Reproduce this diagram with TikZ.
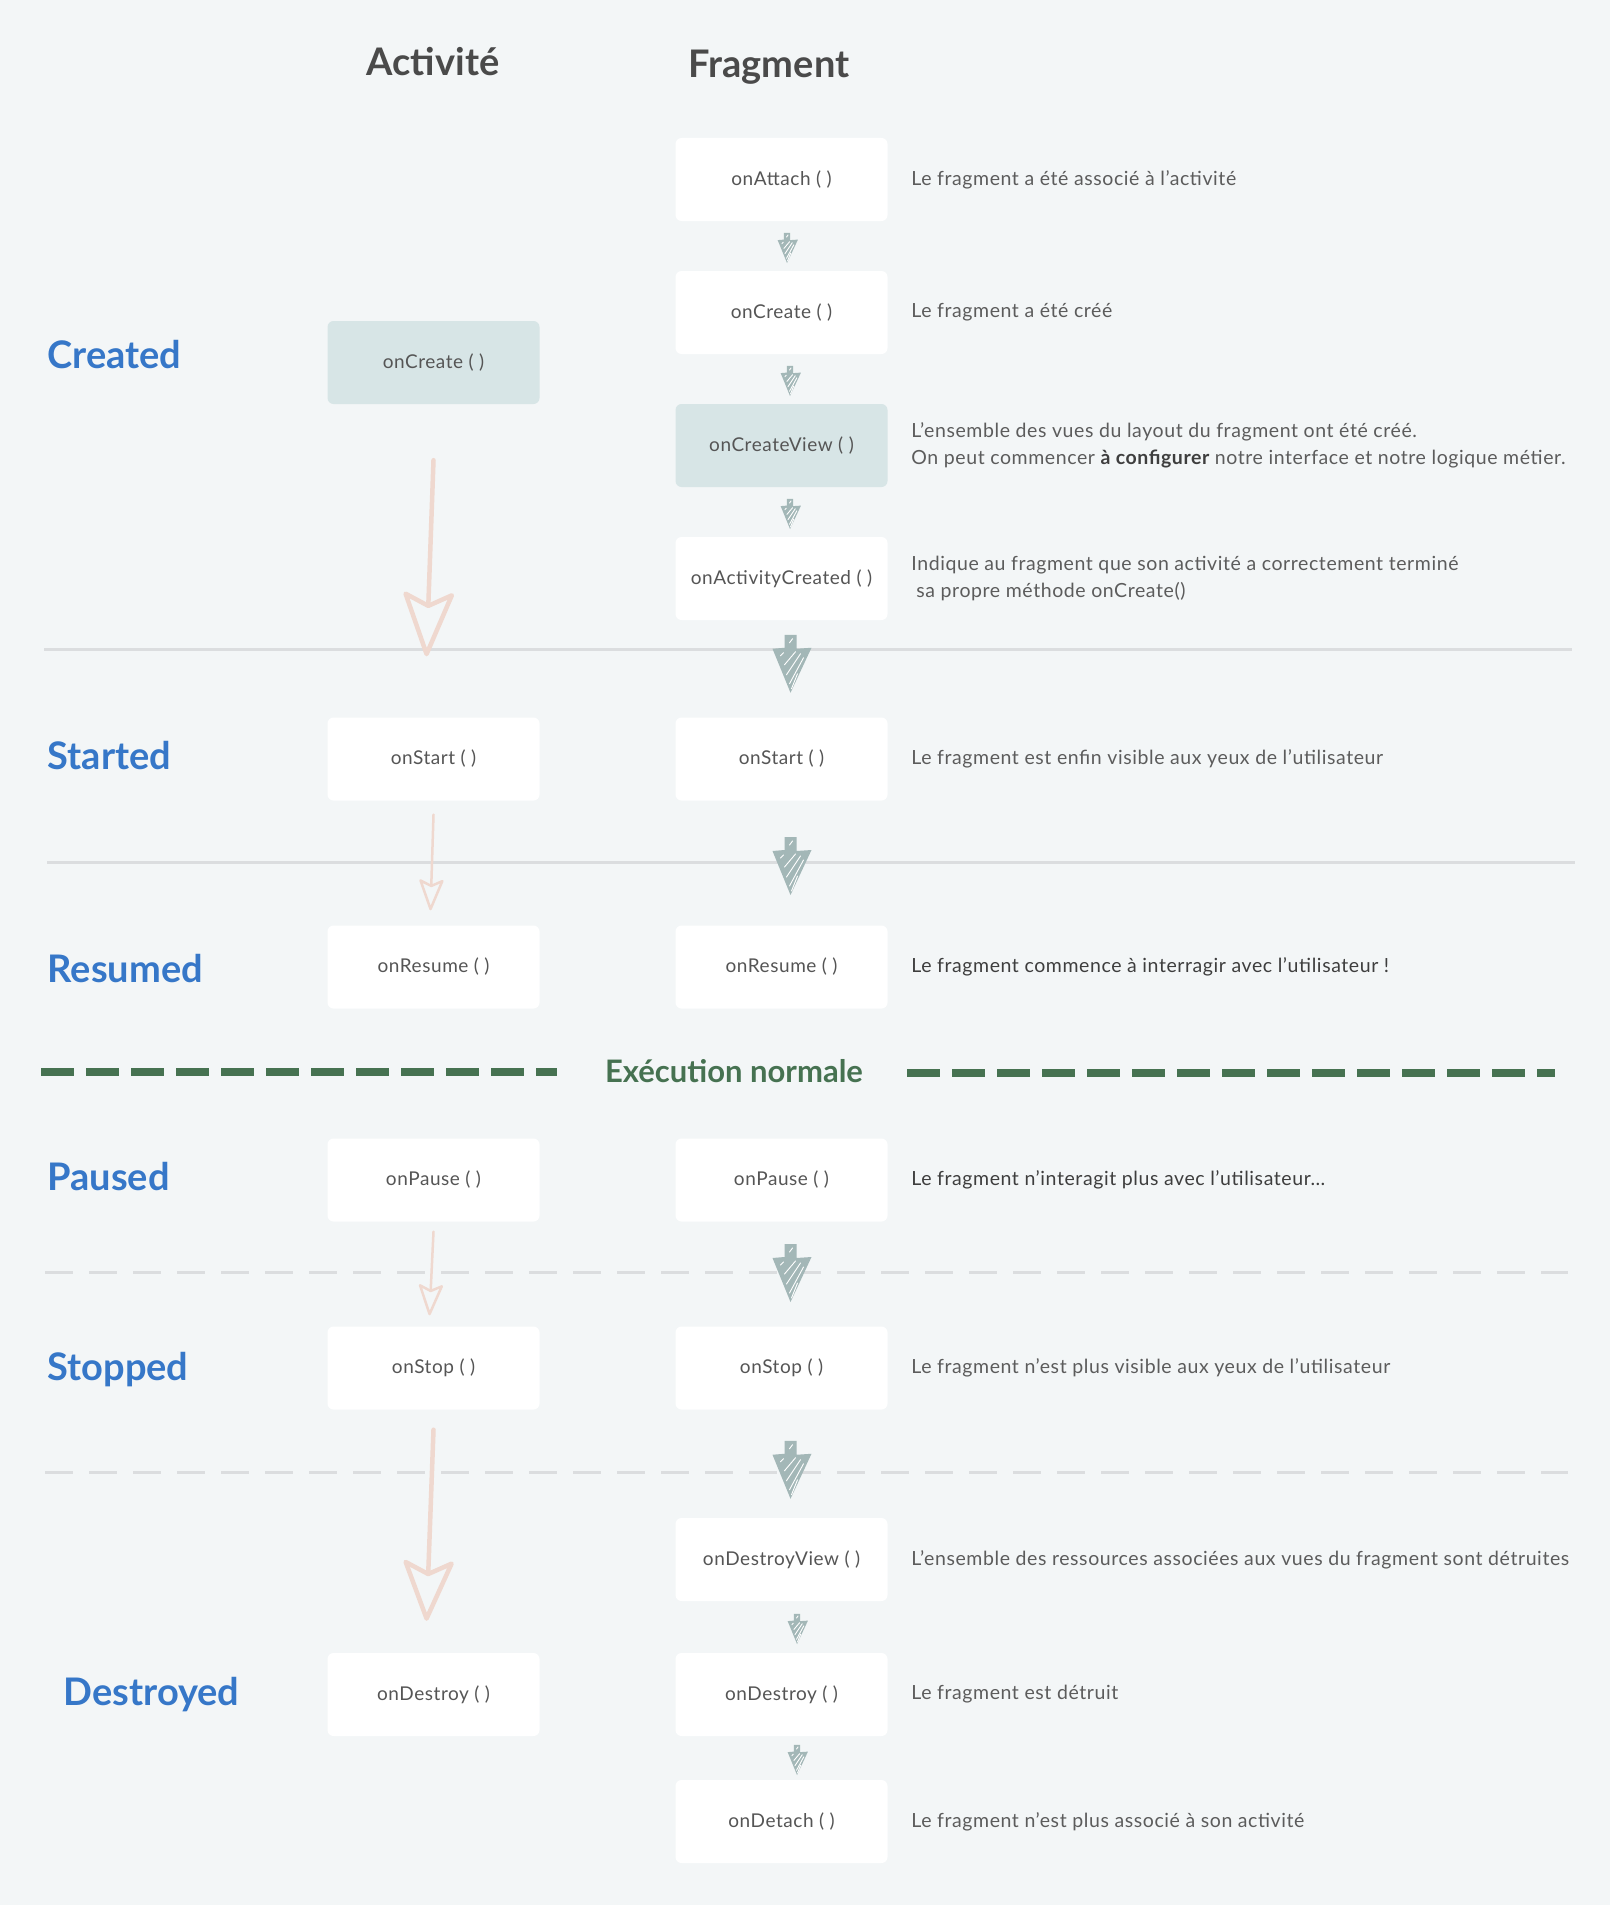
\documentclass[tikz,border=0pt]{standalone}
\usepackage{fontspec}
\setmainfont{Lato}
\newfontfamily\latoespace{Lato}[LetterSpace=3]
\usetikzlibrary{arrows.meta,calc,positioning}

\definecolor{fond}{HTML}{F3F6F7}
\definecolor{surligne}{HTML}{D7E5E6}
\definecolor{textebox}{HTML}{555555}
\definecolor{textedesc}{HTML}{5C5C5C}
\definecolor{textefort}{HTML}{3E3E3E}
\definecolor{titregris}{HTML}{4A4A4A}
\definecolor{bleuetat}{HTML}{3677C8}
\definecolor{grisfleche}{HTML}{A3B7B7}
\definecolor{rosefleche}{HTML}{EFD8CF}
\definecolor{gristrait}{HTML}{DBDDDF}
\definecolor{vertexec}{HTML}{467251}

\tikzset{
  fleche/.pic={
    \fill[grisfleche] (-5,-58) -- (7,-58) -- (7,-44) -- (22,-45) -- (1,0) -- (-17,-44) -- (-5,-45) -- cycle;
    % hachures
    \foreach \xa/\ya/\xb/\yb in {-9/-37/-6/-40, -5/-28/6/-41, -3/-18/11/-39, 0/-9/14/-35, 2/-4/8/-19, 0/-50/3/-54}
      \draw[white, line width=.9pt, line cap=round] (\xa,\ya) -- (\xb,\yb);
  }
}

\begin{document}
\begin{tikzpicture}[x=1pt, y=-1pt,
    boite/.style={fill=white, rounded corners=6pt, minimum width=212pt, minimum height=83pt,
      inner sep=0pt, text=textebox, font=\latoespace\fontsize{19}{22}\selectfont},
    active/.style={boite, fill=surligne},
    etat/.style={anchor=base west, text=bleuetat, font=\fontsize{38}{44}\selectfont\bfseries},
    desc/.style={text=textedesc, font=\latoespace\fontsize{19.5}{27}\selectfont, align=left, inner sep=0pt},
    titre/.style={anchor=base, text=titregris, font=\fontsize{38}{40}\selectfont\bfseries},
    sep/.style={draw=gristrait, line width=3pt},
    rose/.style={draw=rosefleche, line cap=round, line join=round}]

    % fond
    \fill[fond] (0,0) rectangle (1610,1905);
    \useasboundingbox (0,0) rectangle (1610,1905);

    % titres
    \node[titre] (tact) at (433,76) {Activité};
    \node[titre] (tfrag) at (769,78) {Fragment};

    % separateurs
    \draw[sep] (44,649) -- (1572,649);
    \draw[sep] (47,862) -- (1575,862);
    \draw[sep, dash pattern=on 28pt off 16pt] (45,1272) -- (1568,1272);
    \draw[sep, dash pattern=on 28pt off 16pt] (45,1472) -- (1568,1472);

    % execution normale
    \node[text=vertexec, font=\fontsize{31}{32}\selectfont\bfseries, anchor=base] (exec) at (734,1082) {Exécution normale};
    \draw[vertexec, line width=8pt, dash pattern=on 33pt off 12pt] (41,1072) -- (557,1072);
    \draw[vertexec, line width=8pt, dash pattern=on 33pt off 12pt] (907,1073) -- (1555,1073);

    % etats
    \node[etat] (screated) at (44,368) {Created};
    \node[etat] (sstarted) at (44,769) {Started};
    \node[etat] (sresumed) at (44,982) {Resumed};
    \node[etat] (spaused) at (44,1190) {Paused};
    \node[etat] (sstopped) at (44,1380) {Stopped};
    \node[etat] (sdestroyed) at (60,1705) {Destroyed};

    % colonne activite
    \node[active] (acreate) at (433.5,362.5) {onCreate ( )};
    \node[boite] (astart) at (433.5,759) {onStart ( )};
    \node[boite] (aresume) at (433.5,967) {onResume ( )};
    \node[boite] (apause) at (433.5,1180) {onPause ( )};
    \node[boite] (astop) at (433.5,1368) {onStop ( )};
    \node[boite] (adestroy) at (433.5,1694.5) {onDestroy ( )};

    % colonne fragment
    \node[boite] (fattach) at (781.5,179.5) {onAttach ( )};
    \node[boite] (fcreate) at (781.5,312.5) {onCreate ( )};
    \node[active] (fview) at (781.5,445.5) {onCreateView ( )};
    \node[boite] (factivity) at (781.5,578.5) {onActivityCreated ( )};
    \node[boite] (fstart) at (781.5,759) {onStart ( )};
    \node[boite] (fresume) at (781.5,967) {onResume ( )};
    \node[boite] (fpause) at (781.5,1180) {onPause ( )};
    \node[boite] (fstop) at (781.5,1368) {onStop ( )};
    \node[boite] (fdestroyview) at (781.5,1559.5) {onDestroyView ( )};
    \node[boite] (fdestroy) at (781.5,1694.5) {onDestroy ( )};
    \node[boite] (fdetach) at (781.5,1821.5) {onDetach ( )};

    % descriptions
    \node[desc, right=23.5pt of fattach] (dattach) {Le fragment a été associé à l’activité};
    \node[desc, right=23.5pt of fcreate] (dcreate) {Le fragment a été créé};
    \node[desc, right=23.5pt of fview] (dview) {L’ensemble des vues du layout du fragment ont été créé.\\
      On peut commencer {\bfseries\color{textefort}à configurer} notre interface et notre logique métier.};
    \node[desc, right=23.5pt of factivity] (dactivity) {Indique au fragment que son activité a correctement terminé\\
      \hspace*{5pt}sa propre méthode onCreate()};
    \node[desc, right=23.5pt of fstart] (dstart) {Le fragment est enfin visible aux yeux de l’utilisateur};
    \node[desc, text=textefort, right=23.5pt of fresume] (dresume) {Le fragment commence à interragir avec l’utilisateur !};
    \node[desc, text=textefort, right=23.5pt of fpause] (dpause) {Le fragment n’interagit plus avec l’utilisateur…};
    \node[desc, right=23.5pt of fstop] (dstop) {Le fragment n’est plus visible aux yeux de l’utilisateur};
    \node[desc, right=23.5pt of fdestroyview] (ddestroyview) {L’ensemble des ressources associées aux vues du fragment sont détruites};
    \node[desc, right=23.5pt of fdestroy] (ddestroy) {Le fragment est détruit};
    \node[desc, right=23.5pt of fdetach] (ddetach) {Le fragment n’est plus associé à son activité};

    % fleches activite
    \draw[rose, line width=4.5pt, -{Stealth[open, round, length=70pt, width=54pt, inset=13pt]}]
      ([yshift=-56pt]acreate.south) -- ([xshift=-7pt, yshift=61pt]astart.north);
    \draw[rose, line width=2.5pt, -{Stealth[open, round, length=34pt, width=26pt, inset=6pt]}]
      ([yshift=-14pt]astart.south) -- ([xshift=-3pt, yshift=15pt]aresume.north);
    \draw[rose, line width=2.5pt, -{Stealth[open, round, length=34pt, width=26pt, inset=6pt]}]
      ([yshift=-10pt]apause.south) -- ([xshift=-4pt, yshift=11pt]astop.north);
    \draw[rose, line width=4.5pt, -{Stealth[open, round, length=66pt, width=54pt, inset=13pt]}]
      ([yshift=-20pt]astop.south) -- ([xshift=-7pt, yshift=32pt]adestroy.north);

    % fleches fragment
    \foreach \a/\b/\dy in {factivity/fstart/24, fstart/fresume/32, fpause/fstop/28, fstop/fdestroyview/35}
      \pic at ($(\a.south)!.5!(\b.north)+(8,\dy)$) {fleche};
    \foreach \a/\b/\dx in {fattach/fcreate/5, fcreate/fview/8, fview/factivity/8, fdestroyview/fdestroy/15, fdestroy/fdetach/15}
      \pic[scale=.52] at ($(\a.south)!.5!(\b.north)+(\dx,17)$) {fleche};
\end{tikzpicture}
\end{document}
